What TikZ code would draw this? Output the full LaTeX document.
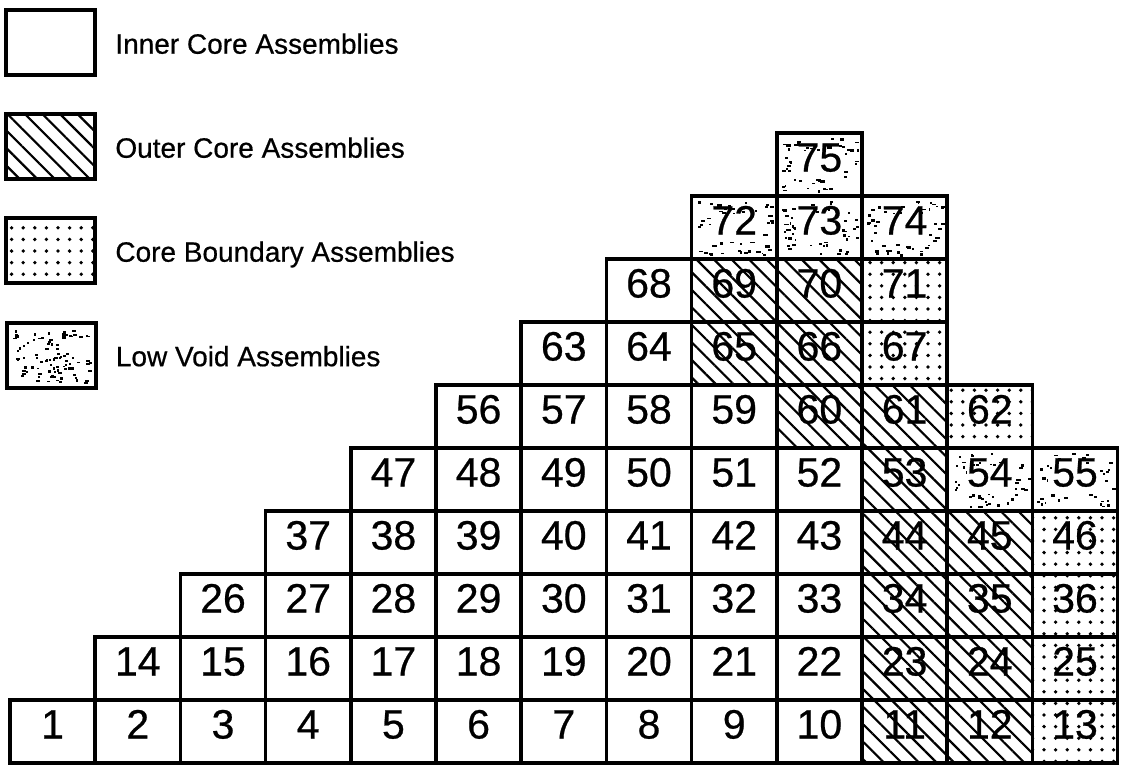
\documentclass[tikz,border=0pt]{standalone}
\usepackage{fontspec}
\setmainfont{Liberation Sans}
\newfontfamily\scanfont{Liberation Sans}[FakeBold=0.6]
\usetikzlibrary{positioning,patterns.meta}

\begin{document}
\begin{tikzpicture}[
  x=0.5pt, y=-0.5pt,
  cellbox/.style = {draw, line width=1.75pt, minimum width=42.6pt, minimum height=31.5pt,
    inner sep=0pt, fill=white, font=\scanfont\fontsize{20.5}{20.5}\selectfont,
    text height=0.70em, text depth=0pt},
  innercell/.style = {cellbox},
  outercell/.style = {cellbox, postaction={pattern={Lines[angle=-45, distance=6.2pt, line width=1.1pt]}}},
  boundcell/.style = {cellbox, postaction={pattern={Dots[distance=5.8pt, radius=0.95pt]}}},
  voidcell/.style = {cellbox, path picture={
      \foreach \k in {1,...,60}
        \fill[black] ([shift={({38*rand},{27*rand})}]path picture bounding box.center)
          rectangle ++({1.5+3*rnd},{1.5+1.2*rnd});
      \fill[white] ([shift={(-23,-14)}]path picture bounding box.center)
        rectangle ++(46,28);
    }},
  legbox/.style = {line width=2pt, minimum width=44.5pt, minimum height=32.5pt},
  legvoid/.style = {legbox, path picture={
      \foreach \k in {1,...,90}
        \fill[black] ([shift={({38*rand},{27*rand})}]path picture bounding box.center)
          rectangle ++({1.5+3*rnd},{1.5+1.2*rnd});
    }},
  legtext/.style = {right=9pt of #1, inner sep=0pt, yshift=-2pt,
    font=\scanfont\fontsize{14}{14}\selectfont, text height=0.72em, text depth=0pt}
]
  \useasboundingbox (0,0) rectangle (1123,773);
  \pgfmathsetseed{42}
  % legend
  \node[innercell, legbox] (lg1) at (50.5,42.5) {};
  \node[outercell, legbox] (lg2) at (50.5,146.5) {};
  \node[boundcell, legbox] (lg3) at (50.5,250.5) {};
  \node[cellbox, legvoid] (lg4) at (51,355) {};
  \node[legtext=lg1] (lgt1) {Inner Core Assemblies};
  \node[legtext=lg2] (lgt2) {Outer Core Assemblies};
  \node[legtext=lg3] (lgt3) {Core Boundary Assemblies};
  \node[legtext=lg4] (lgt4) {Low Void Assemblies};
  % inner core assemblies, row by row
  \foreach \r/\c/\a/\b in {0/1/1/10, 1/2/14/22, 2/3/26/33, 3/4/37/43,
                           4/5/47/52, 5/6/56/59, 6/7/63/64, 7/8/68/68}
    \foreach \n [count=\i from 0] in {\a,...,\b}
      \node[innercell] (c\n) at ({10+(\c+\i-0.5)*85.2},{763-(\r+0.5)*63}) {\n};
  % outer core assemblies
  \foreach \n/\c/\r in {11/11/0, 12/12/0, 23/11/1, 24/12/1, 34/11/2, 35/12/2,
                        44/11/3, 45/12/3, 53/11/4, 60/10/5, 61/11/5,
                        65/9/6, 66/10/6, 69/9/7, 70/10/7}
    \node[outercell] (c\n) at ({10+(\c-0.5)*85.2},{763-(\r+0.5)*63}) {\n};
  % core boundary assemblies
  \foreach \n/\c/\r in {13/13/0, 25/13/1, 36/13/2, 46/13/3, 62/12/5, 67/11/6, 71/11/7}
    \node[boundcell] (c\n) at ({10+(\c-0.5)*85.2},{763-(\r+0.5)*63}) {\n};
  % low void assemblies
  \foreach \n/\c/\r in {54/12/4, 55/13/4, 72/9/8, 73/10/8, 74/11/8, 75/10/9}
    \node[voidcell] (c\n) at ({10+(\c-0.5)*85.2},{763-(\r+0.5)*63}) {\n};
\end{tikzpicture}
\end{document}
